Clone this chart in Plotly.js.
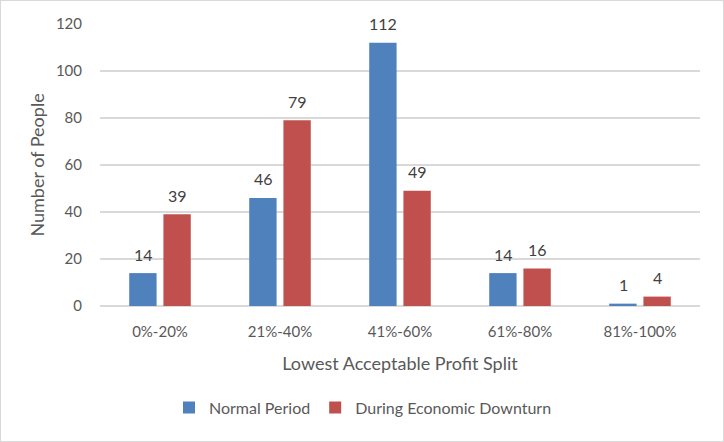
<!DOCTYPE html>
<html>
<head>
<meta charset="utf-8">
<script src="https://cdn.plot.ly/plotly-3.0.1.min.js"></script>
<style>
html,body{margin:0;padding:0;background:#fff;}
#chart{width:722px;height:440px;border:1px solid #d9d9d9;}
</style>
</head>
<body>
<div id="chart"></div>
<script>
const categories = ["0%-20%", "21%-40%", "41%-60%", "61%-80%", "81%-100%"];
const normalPeriod = [14, 46, 112, 14, 1];
const downturn = [39, 79, 49, 16, 4];
const seriesNames = ["Normal Period", "During Economic Downturn"];

const fontFamily = "Lato, 'Open Sans', sans-serif";
const labelFont = {color: "#404040", size: 16, family: fontFamily};
const traces = [
  {type: "bar", name: seriesNames[0], x: categories, y: normalPeriod, marker: {color: "#4F81BD"}},
  {type: "bar", name: seriesNames[1], x: categories, y: downturn, marker: {color: "#C0504D"}}
];
// value labels placed from the data, shifted onto each bar of the group
const annotations = [];
categories.forEach((c, i) => {
  annotations.push({x: c, y: normalPeriod[i], xref: "x", yref: "y", text: String(normalPeriod[i]),
    showarrow: false, xshift: -17, yshift: 19, yanchor: "middle", font: labelFont});
  annotations.push({x: c, y: downturn[i], xref: "x", yref: "y", text: String(downturn[i]),
    showarrow: false, xshift: 17, yshift: 19, yanchor: "middle", font: labelFont});
});
const layout = {
  width: 722, height: 440,
  margin: {l: 99, r: 23, t: 23, b: 135},
  paper_bgcolor: "#fff", plot_bgcolor: "#fff",
  font: {family: fontFamily, color: "#595959", size: 15},
  barmode: "group", bargap: 0.43, bargroupgap: 0.2,
  annotations: annotations,
  xaxis: {title: {text: "Lowest Acceptable Profit Split", font: {size: 18, color: "#595959"}, standoff: 18},
          showgrid: false, ticks: "", showline: false, tickfont: {size: 15}, ticklabelstandoff: 15},
  yaxis: {title: {text: "Number of People", font: {size: 18, color: "#595959"}, standoff: 6},
          range: [0, 120], dtick: 20, gridcolor: "#d9d9d9", gridwidth: 1.3, zeroline: true,
          zerolinecolor: "#d9d9d9", zerolinewidth: 1.3, ticks: "", tickfont: {size: 15}, ticklabelstandoff: 17},
  showlegend: true,
  legend: {orientation: "h", x: 0.115, xanchor: "left", y: -0.3, yanchor: "top",
           font: {size: 16, color: "#595959"}, traceorder: "normal", itemwidth: 30}
};
Plotly.newPlot("chart", traces, layout, {displayModeBar: false, staticPlot: true});
</script>
</body>
</html>
